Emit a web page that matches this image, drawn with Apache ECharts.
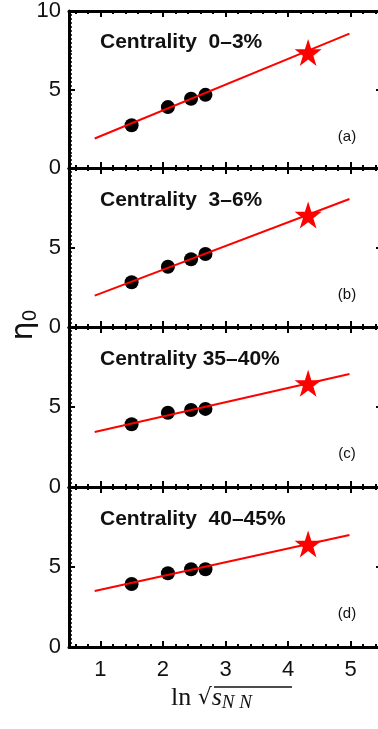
<!DOCTYPE html>
<html>
<head>
<meta charset="utf-8">
<script src="https://cdn.jsdelivr.net/npm/echarts@6/dist/echarts.min.js"></script>
<style>
html,body{margin:0;padding:0;background:#fff;overflow:hidden;width:378px;height:729px;}
#c{width:392px;height:729px;}
</style>
</head>
<body>
<div id="c"></div>
<script>
// ---- data ----
var pointX = [1.50, 2.08, 2.45, 2.68];
var starX = 4.32;
var lineX = [0.91, 4.98];

var panelA = [2.72, 3.88, 4.41, 4.66];
var panelB = [2.81, 3.79, 4.26, 4.59];
var panelC = [3.92, 4.64, 4.81, 4.88];
var panelD = [3.94, 4.61, 4.86, 4.86];
var panelPoints = [panelA, panelB, panelC, panelD];

var starY = [7.36, 7.04, 6.48, 6.44];
var lineYa = [1.88, 8.56];
var lineYb = [1.97, 8.05];
var lineYc = [3.44, 7.06];
var lineYd = [3.50, 7.00];
var lineYs = [lineYa, lineYb, lineYc, lineYd];

var centralityLabels = ['Centrality  0\u20133%', 'Centrality  3\u20136%', 'Centrality 35\u201340%', 'Centrality  40\u201345%'];
var panelTags = ['(a)', '(b)', '(c)', '(d)'];
var yTicks = [0, 5, 10];
var xTicks = [1, 2, 3, 4, 5];

// ---- layout ----
var gridTops = [10, 168, 327, 487];
var gridHeights = [158, 159, 160, 160];
var GL = 69, GW = 313;

var starPath = 'path://M50,0 L61.8,35.4 L99,35.4 L69,57.3 L80.4,92.7 L50,70.8 L19.6,92.7 L31,57.3 L1,35.4 L38.2,35.4 Z';

var grids = [], xAxes = [], yAxes = [], series = [], graphics = [];
var lineStyleAxis = {color: '#000', width: 3};

for (var i = 0; i < 4; i++) {
  grids.push({left: GL, top: gridTops[i], width: GW, height: gridHeights[i], containLabel: false});
  xAxes.push({
    gridIndex: i, type: 'value', min: 0.5, max: 5.5, splitNumber: 5, position: 'bottom',
    axisLine: {show: true, onZero: false, lineStyle: lineStyleAxis},
    axisTick: {show: true, inside: true, length: 6, lineStyle: {color: '#000', width: 2}},
    minorTick: {show: true, splitNumber: 5, length: 3, lineStyle: {color: '#000', width: 2}},
    splitLine: {show: false},
    axisLabel: {show: i === 3, showMinLabel: false, showMaxLabel: false, margin: 12,
      fontFamily: 'Liberation Sans', fontSize: 22, color: '#111',
      formatter: function (v) { return xTicks.indexOf(v) >= 0 ? String(v) : ''; }}
  });
  xAxes.push({
    gridIndex: i, type: 'value', min: 0.5, max: 5.5, splitNumber: 5, position: 'top',
    axisLine: {show: true, onZero: false, lineStyle: lineStyleAxis},
    axisTick: {show: true, inside: true, length: 6, lineStyle: {color: '#000', width: 2}},
    minorTick: {show: true, splitNumber: 5, length: 3, lineStyle: {color: '#000', width: 2}},
    splitLine: {show: false}, axisLabel: {show: false}
  });
  yAxes.push({
    gridIndex: i, type: 'value', min: 0, max: 10, interval: 5, position: 'left',
    axisLine: {show: true, onZero: false, lineStyle: lineStyleAxis},
    axisTick: {show: true, inside: true, length: 6, lineStyle: {color: '#000', width: 2}},
    minorTick: {show: true, splitNumber: 20, length: 3, lineStyle: {color: '#000', width: 1.5}},
    splitLine: {show: false},
    axisLabel: {show: true, showMaxLabel: i === 0, margin: 8,
      fontFamily: 'Liberation Sans', fontSize: 22, color: '#111',
      formatter: function (v) { return yTicks.indexOf(v) >= 0 ? String(v) : ''; }}
  });
  yAxes.push({
    gridIndex: i, type: 'value', min: 0, max: 10, interval: 5, position: 'right',
    axisLine: {show: true, onZero: false, lineStyle: lineStyleAxis},
    axisTick: {show: true, inside: true, length: 6, lineStyle: {color: '#000', width: 2}},
    minorTick: {show: true, splitNumber: 20, length: 3, lineStyle: {color: '#000', width: 1.5}},
    splitLine: {show: false}, axisLabel: {show: false}
  });

  var pts = pointX.map(function (x, k) { return [x, panelPoints[i][k]]; });
  series.push({
    type: 'scatter', xAxisIndex: 2 * i, yAxisIndex: 2 * i, data: pts,
    symbol: 'circle', symbolSize: 14, itemStyle: {color: '#000', opacity: 1}, z: 2, silent: true
  });
  series.push({
    type: 'line', xAxisIndex: 2 * i, yAxisIndex: 2 * i,
    data: lineX.map(function (x, k) { return [x, lineYs[i][k]]; }),
    showSymbol: false, symbol: 'none', lineStyle: {color: '#ff0000', width: 2}, z: 3, silent: true
  });
  series.push({
    type: 'scatter', xAxisIndex: 2 * i, yAxisIndex: 2 * i, data: [[starX, starY[i]]],
    symbol: starPath, symbolSize: 27, itemStyle: {color: '#ff0000', opacity: 1}, z: 4, silent: true
  });

  graphics.push({
    type: 'text', x: 100, y: gridTops[i] + 32,
    style: {text: centralityLabels[i], font: 'bold 21px "Liberation Sans"', fill: '#111', verticalAlign: 'middle'}
  });
  graphics.push({
    type: 'text', x: 347, y: gridTops[i] + 127,
    style: {text: panelTags[i], font: '15px "Liberation Sans"', fill: '#111', align: 'center', verticalAlign: 'middle'}
  });
}

graphics.push({
  type: 'text', x: 24, y: 325, rotation: Math.PI / 2,
  style: {
    text: '{e|\u03b7}{s|0}', align: 'center', verticalAlign: 'middle',
    rich: {
      e: {fontFamily: 'DejaVu Sans', fontSize: 30, fill: '#111'},
      s: {fontFamily: 'DejaVu Sans', fontSize: 19, fill: '#111', padding: [14, 0, 0, 0]}
    }
  }
});
graphics.push({
  type: 'text', x: 171, y: 698,
  style: {
    text: '{l|ln }{r|\u221a}{s|s}{n|N N}', verticalAlign: 'middle',
    rich: {
      l: {fontFamily: 'Liberation Serif', fontSize: 26, fill: '#111'},
      r: {fontFamily: 'DejaVu Serif', fontSize: 22, fill: '#111'},
      s: {fontFamily: 'Liberation Serif', fontStyle: 'italic', fontSize: 26, fill: '#111'},
      n: {fontFamily: 'Liberation Serif', fontStyle: 'italic', fontSize: 19, fill: '#111', padding: [10, 0, 0, 0]}
    }
  }
});
graphics.push({
  type: 'line', shape: {x1: 214, y1: 687, x2: 292, y2: 687},
  style: {stroke: '#111', lineWidth: 1.3}
});

var chart = echarts.init(document.getElementById('c'), null, {renderer: 'canvas'});
chart.setOption({
  animation: false,
  backgroundColor: '#fff',
  grid: grids,
  xAxis: xAxes,
  yAxis: yAxes,
  series: series,
  graphic: graphics
});
</script>
</body>
</html>
